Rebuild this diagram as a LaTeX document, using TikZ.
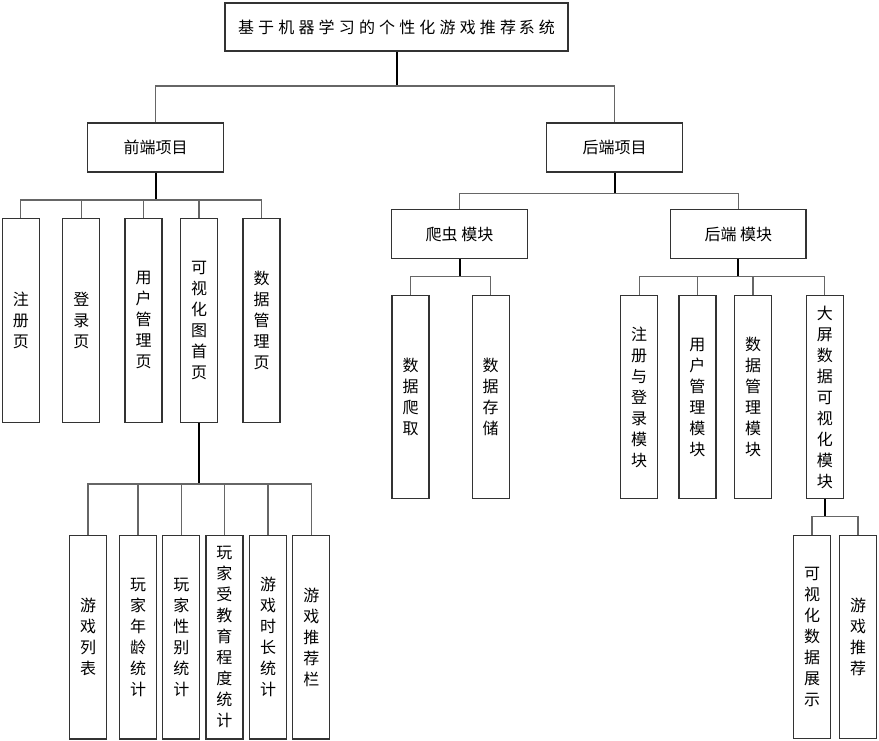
\documentclass[tikz,border=0pt]{standalone}
\usepackage{fontspec}
\newfontfamily\cjk{Noto Sans CJK SC}
\begin{document}
\begin{tikzpicture}[x=0.75pt,y=-0.75pt,
  box/.style={draw=black!80, line width=0.9pt, fill=white, inner sep=0pt,
    font=\cjk\fontsize{12}{15.75}\selectfont, align=center},
  hbox/.style={box, minimum width=101.5pt, minimum height=36.75pt},
  vbox/.style={box, minimum width=27.75pt, minimum height=152.5pt},
  conn/.style={draw=black!60, line width=0.9pt},
  thick conn/.style={draw=black, line width=1.5pt}]
\useasboundingbox (0,0) rectangle (879,741);
% nodes
\node[box, minimum width=257.25pt, minimum height=36pt] (top) at (396.5,27)
  {{\addfontfeatures{LetterSpace=26}基于机器学习的个性化游戏推荐}\hspace{2pt}{\addfontfeatures{LetterSpace=26}系统}};
\node[hbox] (fe) at (155.5,147.5) {前端项目};
\node[hbox] (be) at (614.5,147.5) {后端项目};
% frontend pages
\node[vbox] (f1) at (20.8,320.5) {注\\册\\页};
\node[vbox] (f2) at (81.3,320.5) {登\\录\\页};
\node[vbox] (f3) at (143.5,320.5) {用\\户\\管\\理\\页};
\node[vbox] (f4) at (199,320.5) {可\\视\\化\\图\\首\\页};
\node[vbox] (f5) at (261.5,320.5) {数\\据\\管\\理\\页};
% visualization children
\node[vbox] (v1) at (88,637.4) {游\\戏\\列\\表};
\node[vbox] (v2) at (138,637.4) {玩\\家\\年\\龄\\统\\计};
\node[vbox] (v3) at (181.3,637.4) {玩\\家\\性\\别\\统\\计};
\node[vbox] (v4) at (224.4,637.4) {玩\\家\\受\\教\\育\\程\\度\\统\\计};
\node[vbox] (v5) at (268,637.4) {游\\戏\\时\\长\\统\\计};
\node[vbox] (v6) at (311.3,637.4) {游\\戏\\推\\荐\\栏};
% backend modules
\node[hbox] (cr) at (459.5,234) {爬虫 模块};
\node[hbox] (bm) at (738.4,234) {后端 模块};
\node[vbox] (c1) at (410.5,397) {数\\据\\爬\\取};
\node[vbox] (c2) at (490.7,397) {数\\据\\存\\储};
\node[vbox] (b1) at (639.2,397) {注\\册\\与\\登\\录\\模\\块};
\node[vbox] (b2) at (697.4,397) {用\\户\\管\\理\\模\\块};
\node[vbox] (b3) at (753,397) {数\\据\\管\\理\\模\\块};
\node[vbox] (b4) at (824.8,397) {大\\屏\\数\\据\\可\\视\\化\\模\\块};
\node[vbox] (d1) at (812,637) {可\\视\\化\\数\\据\\展\\示};
\node[vbox] (d2) at (858,637) {游\\戏\\推\\荐};
% bus levels
\coordinate (yTop) at (0,86);
\coordinate (yFe) at (0,200);
\coordinate (yBe) at (0,193.5);
\coordinate (yCr) at (0,276.7);
\coordinate (yVi) at (0,484);
\coordinate (yDp) at (0,516.7);
% connectors
\draw[thick conn] (top.south) -- (top.south |- yTop);
\foreach \c in {fe,be} \draw[conn] (top.south |- yTop) -| (\c.north);
\draw[thick conn] (fe.south) -- (fe.south |- yFe);
\foreach \c in {f1,f2,f3,f4,f5} \draw[conn] (fe.south |- yFe) -| (\c.north);
\draw[thick conn] (f4.south) -- (f4.south |- yVi);
\foreach \c in {v1,v2,v3,v4,v5,v6} \draw[conn] (f4.south |- yVi) -| (\c.north);
\draw[thick conn] (be.south) -- (be.south |- yBe);
\foreach \c in {cr,bm} \draw[conn] (be.south |- yBe) -| (\c.north);
\draw[thick conn] (cr.south) -- (cr.south |- yCr);
\foreach \c in {c1,c2} \draw[conn] (cr.south |- yCr) -| (\c.north);
\draw[thick conn] (bm.south) -- (bm.south |- yCr);
\foreach \c in {b1,b2,b3,b4} \draw[conn] (bm.south |- yCr) -| (\c.north);
\draw[thick conn] (b4.south) -- (b4.south |- yDp);
\foreach \c in {d1,d2} \draw[conn] (b4.south |- yDp) -| (\c.north);
\end{tikzpicture}
\end{document}
